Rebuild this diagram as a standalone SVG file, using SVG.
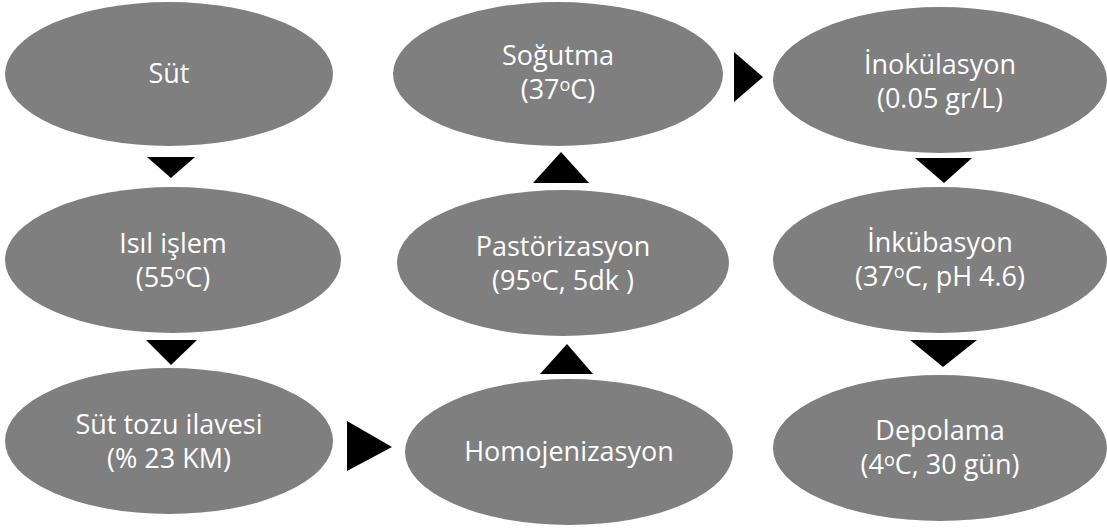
<svg xmlns="http://www.w3.org/2000/svg" width="1107" height="530" viewBox="0 0 1107 530">
<style>
.n ellipse{fill:#7f7f7f}
.n text{fill:#ffffff;font-family:"Open Sans","Noto Sans",sans-serif;font-size:27px;text-anchor:middle}
.sup{font-size:18px;baseline-shift:45%}
.c polygon{fill:#000000}
</style>
<rect width="1107" height="530" fill="#ffffff"/>
<g id="n-sut" class="n"><ellipse cx="169" cy="74" rx="164" ry="72"/><text x="169" y="83">Süt</text></g>
<g id="n-isil" class="n"><ellipse cx="173" cy="260" rx="168" ry="73"/><text x="173" y="253">Isıl işlem</text><text x="173" y="287">(55<tspan class="sup">o</tspan>C)</text></g>
<g id="n-suttozu" class="n"><ellipse cx="169" cy="441" rx="164" ry="73"/><text x="169" y="434">Süt tozu ilavesi</text><text x="169" y="468">(% 23 KM)</text></g>
<g id="n-homo" class="n"><ellipse cx="569" cy="452" rx="164" ry="73"/><text x="569" y="461">Homojenizasyon</text></g>
<g id="n-past" class="n"><ellipse cx="563" cy="263" rx="166" ry="73"/><text x="563" y="256">Pastörizasyon</text><text x="563" y="290">(95<tspan class="sup">o</tspan>C, 5dk )</text></g>
<g id="n-sogutma" class="n"><ellipse cx="558" cy="74" rx="165" ry="72"/><text x="558" y="65">Soğutma</text><text x="558" y="99">(37<tspan class="sup">o</tspan>C)</text></g>
<g id="n-inok" class="n"><ellipse cx="940" cy="80" rx="167" ry="73"/><text x="940" y="74">İnokülasyon</text><text x="940" y="108">(0.05 gr/L)</text></g>
<g id="n-inkub" class="n"><ellipse cx="940" cy="260" rx="167" ry="73"/><text x="940" y="252">İnkübasyon</text><text x="940" y="286">(37<tspan class="sup">o</tspan>C, pH 4.6)</text></g>
<g id="n-depo" class="n"><ellipse cx="940" cy="448" rx="167" ry="73"/><text x="940" y="440">Depolama</text><text x="940" y="474">(4<tspan class="sup">o</tspan>C, 30 gün)</text></g>
<g id="connectors" class="c">
<polygon points="147,157 195,157 171,178"/>
<polygon points="146,340 197,340 171,365"/>
<polygon points="347,421 392,447 347,471"/>
<polygon points="540,374 593,374 567,344"/>
<polygon points="533,183 589,183 561,152"/>
<polygon points="734,52 763,77 734,102"/>
<polygon points="915,158 972,158 944,183"/>
<polygon points="910,340 977,340 943,367"/>
</g>
</svg>
